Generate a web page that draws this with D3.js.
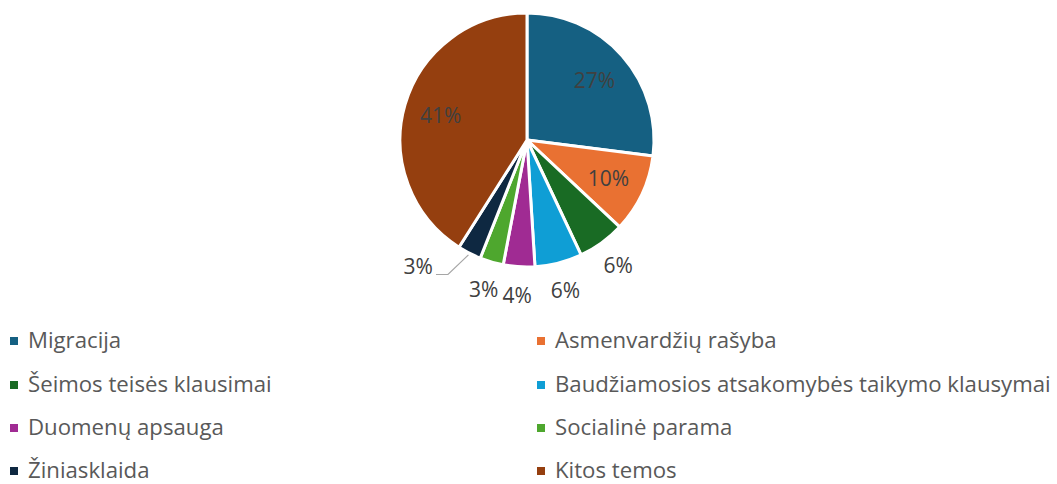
<!DOCTYPE html>
<html>
<head>
<meta charset="utf-8">
<script src="https://cdn.jsdelivr.net/npm/d3@7"></script>
<style>
  body { margin: 0; background: #fff; }
  svg text { font-family: "Open Sans", "Noto Sans", sans-serif; }
</style>
</head>
<body>
<script>
const categories = [
  "Migracija",
  "Asmenvardžių rašyba",
  "Šeimos teisės klausimai",
  "Baudžiamosios atsakomybės taikymo klausymai",
  "Duomenų apsauga",
  "Socialinė parama",
  "Žiniasklaida",
  "Kitos temos"
];
const shares = [27, 10, 6, 6, 4, 3, 3, 41];
const colors = ["#156082", "#e97132", "#196b24", "#0f9ed5", "#a02b93", "#4ea72e", "#0e2841", "#953f0f"];
const insideLabel = [true, true, false, false, false, false, false, true];

const width = 1057;
const height = 484;
const cx = 527, cy = 140, radius = 127;

const svg = d3.select("body").append("svg")
  .attr("width", width)
  .attr("height", height);

const data = categories.map((c, i) => ({ name: c, value: shares[i], color: colors[i], inside: insideLabel[i] }));

const pie = d3.pie().value(d => d.value).sort(null);
const arcs = pie(data);

const arc = d3.arc().innerRadius(0).outerRadius(radius);
const labelArcIn = d3.arc().innerRadius(90).outerRadius(90);
const labelArcOut = d3.arc().innerRadius(155).outerRadius(155);

const g = svg.append("g").attr("transform", `translate(${cx},${cy})`);

g.selectAll("path.slice")
  .data(arcs)
  .join("path")
  .attr("class", "slice")
  .attr("d", arc)
  .attr("fill", d => d.data.color)
  .attr("stroke", "#fff")
  .attr("stroke-width", 3)
  .attr("stroke-linejoin", "round");

const fmt = d => Math.round(d.data.value) + "%";

// labels that fit
g.selectAll("text.lbl")
  .data(arcs.filter((d, i) => i !== 6))
  .join("text")
  .attr("class", "lbl")
  .attr("transform", d => {
    const p = d.data.inside ? labelArcIn.centroid(d) : labelArcOut.centroid(d);
    return `translate(${p[0]},${p[1]})`;
  })
  .attr("text-anchor", "middle")
  .attr("dy", "0.38em")
  .attr("fill", "#404040")
  .attr("font-size", 21)
  .text(fmt);

// moved label with leader line (Žiniasklaida)
const moved = arcs[6];
const mid = (moved.startAngle + moved.endAngle) / 2;
const pt = (r, a) => [r * Math.sin(a), -r * Math.cos(a)];
const p0 = pt(radius + 2, mid);
const p1 = pt(156, mid + 0.06);
const p2 = [p1[0] - 12, p1[1]];
g.append("polyline")
  .attr("points", [p0, p1, p2].map(p => p.join(",")).join(" "))
  .attr("fill", "none")
  .attr("stroke", "#a6a6a6")
  .attr("stroke-width", 1.2);
g.append("text")
  .attr("x", p2[0] - 3)
  .attr("y", p2[1] - 8)
  .attr("text-anchor", "end")
  .attr("dy", "0.36em")
  .attr("fill", "#404040")
  .attr("font-size", 21)
  .text(fmt(moved));

// legend
const colX = [10, 537];
const rowY = [341, 385, 428, 471];
const legend = svg.selectAll("g.leg")
  .data(data)
  .join("g")
  .attr("class", "leg")
  .attr("transform", (d, i) => `translate(${colX[i % 2]},${rowY[Math.floor(i / 2)]})`);

legend.append("rect")
  .attr("x", 0).attr("y", -4)
  .attr("width", 8).attr("height", 8)
  .attr("fill", d => d.color);

legend.append("text")
  .attr("x", 18)
  .attr("dy", "0.32em")
  .attr("fill", "#595959")
  .attr("font-size", 22.2)
  .text(d => d.name);
</script>
</body>
</html>
